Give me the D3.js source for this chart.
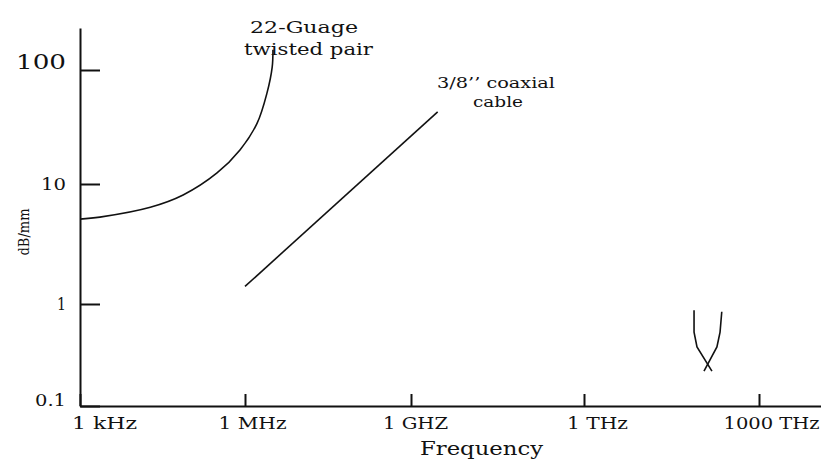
<!DOCTYPE html>
<html>
<head>
<meta charset="utf-8">
<script src="https://cdn.jsdelivr.net/npm/d3@7"></script>
<style>
  body { margin: 0; background: #fff; }
  text { font-family: "DejaVu Serif", "Liberation Serif", serif; fill: #111; }
</style>
</head>
<body>
<div id="chart"></div>
<script>
// frequency ticks (Hz) and their labels
const freqTicks = [1e3, 1e6, 1e9, 1e12, 1e15]
const freqLabels = ["1 kHz", "1 MHz", "1 GHZ", "1 THz", "1000 THz"]
// attenuation ticks (dB/km)
const attTicks = [0.1, 1, 10, 100]
const attLabels = ["0.1", "1", "10", "100"]

// 22-gauge twisted pair: [Hz, dB/km]
const twistedPair = [[1e3, 5.1], [2.3e3, 5.3], [1.9e4, 6.4], [7.5e4, 8.1], [3.1e5, 12.5],
  [8.1e5, 19.9], [1.65e6, 34], [2.5e6, 63], [3.1e6, 106], [3.2e6, 150]]
// 3/8" coaxial cable
const coaxial = [[1e6, 1.4], [2.9e9, 43]]
// optical fiber (two arms of the V)
const fiberLeft = [[7.7e13, 0.87], [7.7e13, 0.53], [8.65e13, 0.38], [1.56e14, 0.22]]
const fiberRight = [[2.3e14, 0.84], [2.15e14, 0.53], [1.9e14, 0.38], [1.14e14, 0.22]]

const width = 821, height = 464

const svg = d3.select("#chart").append("svg")
  .attr("width", width)
  .attr("height", height)

// the scan is not an exact log grid, so use piecewise log scales
var x = d3.scaleLog()
  .domain([1e3, 1e6, 1e9, 1e12, 1e15, 1.15e16])
  .range([80, 245, 411, 584, 759, 821])

var y = d3.scaleLog()
  .domain([0.1, 1, 10, 100, 233])
  .range([406, 304, 184, 70, 28])

// x axis, ticks pointing up
var xAxis = svg.append("g")
  .attr("transform", "translate(0," + y(0.1) + ")")
  .call(d3.axisBottom(x)
    .tickValues(freqTicks)
    .tickFormat((d, i) => freqLabels[i])
    .tickSizeInner(-12)
    .tickSizeOuter(0)
    .tickPadding(12))
xAxis.select(".domain").attr("stroke", "#111").attr("stroke-width", 2)
xAxis.selectAll(".tick line").attr("stroke", "#111").attr("stroke-width", 2)
const xLabelShift = [24, 7, 4, 13, 12]
const xLabelLen = [65, 68, 65, 61, 96]
xAxis.selectAll(".tick text")
  .attr("font-size", 16)
  .attr("font-family", null)
  .attr("x", (d, i) => xLabelShift[i])
  .attr("textLength", (d, i) => xLabelLen[i])
  .attr("lengthAdjust", "spacingAndGlyphs")

// y axis, ticks pointing right
var yAxis = svg.append("g")
  .attr("transform", "translate(" + x(1e3) + ",0)")
  .call(d3.axisLeft(y)
    .tickValues(attTicks)
    .tickFormat((d, i) => attLabels[i])
    .tickSizeInner(-20)
    .tickSizeOuter(0)
    .tickPadding(14))
yAxis.select(".domain").attr("stroke", "#111").attr("stroke-width", 2)
yAxis.selectAll(".tick line").attr("stroke", "#111").attr("stroke-width", 2)
yAxis.selectAll(".tick text")
  .attr("font-family", null)
  .attr("font-size", d => d === 100 ? 21 : 17)
  .attr("y", d => d === 100 ? -8 : d === 0.1 ? -6 : 0)
  .attr("textLength", (d, i) => [31, 9, 25, 50][i])
  .attr("lengthAdjust", "spacingAndGlyphs")

// smooth curve through the twisted pair readings
svg.append("path")
  .datum(twistedPair)
  .attr("d", d3.line()
    .x(d => x(d[0]))
    .y(d => y(d[1]))
    .curve(d3.curveCatmullRom.alpha(0.5)))
  .attr("fill", "none")
  .attr("stroke", "#111")
  .attr("stroke-width", 1.6)

svg.selectAll("path.straight")
  .data([coaxial, fiberLeft, fiberRight])
  .enter()
  .append("path")
  .attr("class", "straight")
  .attr("d", d3.line().x(d => x(d[0])).y(d => y(d[1])))
  .attr("fill", "none")
  .attr("stroke", "#111")
  .attr("stroke-width", 1.6)

// annotations
function label(txt, px, py, size, len) {
  svg.append("text")
    .attr("x", px)
    .attr("y", py)
    .attr("font-size", size)
    .attr("textLength", len)
    .attr("lengthAdjust", "spacingAndGlyphs")
    .text(txt)
}
label("22-Guage", 250, 33, 17, 108)
label("twisted pair", 244, 55, 17, 129)
label("3/8’’ coaxial", 437, 88, 15, 118)
label("cable", 473, 107, 15, 50)
label("Frequency", 420, 455, 18, 123)

svg.append("text")
  .attr("transform", "translate(29,232) rotate(-90)")
  .attr("text-anchor", "middle")
  .attr("font-size", 14)
  .attr("textLength", 47)
  .attr("lengthAdjust", "spacingAndGlyphs")
  .text("dB/mm")
</script>
</body>
</html>
